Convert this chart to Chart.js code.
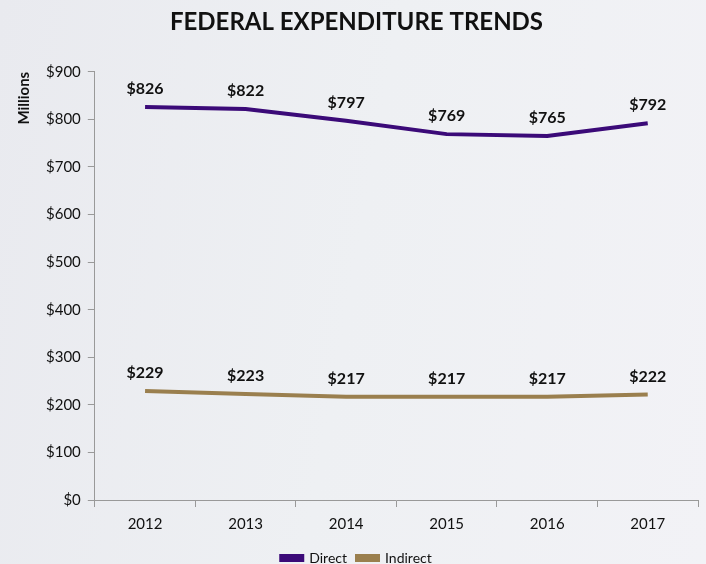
<!DOCTYPE html>
<html>
<head>
<meta charset="utf-8">
<script src="https://cdn.jsdelivr.net/npm/chart.js@4"></script>
<style>
html,body{margin:0;padding:0;}
body{width:706px;height:564px;background:linear-gradient(100deg,#e9eaef 0%,#eef0f3 50%,#f2f2f6 100%);overflow:hidden;}
#wrap{width:706px;height:564px;position:relative;}
</style>
</head>
<body>
<div id="wrap"><canvas id="c" width="706" height="564"></canvas></div>
<script>
const years = ["2012","2013","2014","2015","2016","2017"];
const directValues = [826, 822, 797, 769, 765, 792];
const indirectValues = [229, 223, 217, 217, 217, 222];
const yTicks = [0,100,200,300,400,500,600,700,800,900];

const FONT = "Lato, 'Open Sans', sans-serif";

const labelPlugin = {
  id: 'pointLabels',
  afterDatasetsDraw(chart) {
    const ctx = chart.ctx;
    ctx.save();
    ctx.font = "bold 16px " + FONT;
    ctx.fillStyle = "#111";
    ctx.textAlign = "center";
    ctx.textBaseline = "bottom";
    chart.data.datasets.forEach((ds, i) => {
      const meta = chart.getDatasetMeta(i);
      meta.data.forEach((pt, j) => {
        ctx.fillText("$" + ds.data[j], pt.x, pt.y - 10);
      });
    });
    ctx.restore();
  }
};

new Chart(document.getElementById('c'), {
  type: 'line',
  data: {
    labels: years,
    datasets: [
      {label: 'Direct', data: directValues, borderColor: '#3b0a78', backgroundColor: '#3b0a78', borderWidth: 4, pointRadius: 0, tension: 0},
      {label: 'Indirect', data: indirectValues, borderColor: '#9a7f4e', backgroundColor: '#9a7f4e', borderWidth: 4, pointRadius: 0, tension: 0}
    ]
  },
  options: {
    responsive: false,
    animation: false,
    layout: {padding: {left: 15, right: 8, top: 0, bottom: -11}},
    plugins: {
      title: {display: true, text: 'FEDERAL EXPENDITURE TRENDS', color: '#111', font: {family: FONT, size: 24, weight: 'bold'}, padding: {top: 8, bottom: 35}},
      legend: {position: 'bottom', labels: {boxWidth: 21, boxHeight: 4, color: '#111', font: {family: FONT, size: 14}, padding: 10}},
      tooltip: {enabled: false}
    },
    scales: {
      x: {
        offset: true,
        grid: {display: true, drawOnChartArea: false, drawTicks: true, tickLength: 7, color: '#999', offset: true},
        border: {color: '#999'},
        ticks: {color: '#111', font: {family: FONT, size: 15}, padding: 8}
      },
      y: {
        min: 0, max: 900,
        afterBuildTicks(axis) { axis.ticks = yTicks.map(v => ({value: v})); },
        grid: {display: true, drawOnChartArea: false, drawTicks: true, tickLength: 7, color: '#999'},
        border: {color: '#999'},
        ticks: {color: '#111', font: {family: FONT, size: 15}, padding: 7, callback: v => '$' + v},
        title: {display: true, text: 'Millions', align: 'end', color: '#111', font: {family: FONT, size: 15, weight: 'bold'}, padding: {top: 0, bottom: 6}}
      }
    }
  },
  plugins: [labelPlugin]
});
</script>
</body>
</html>
